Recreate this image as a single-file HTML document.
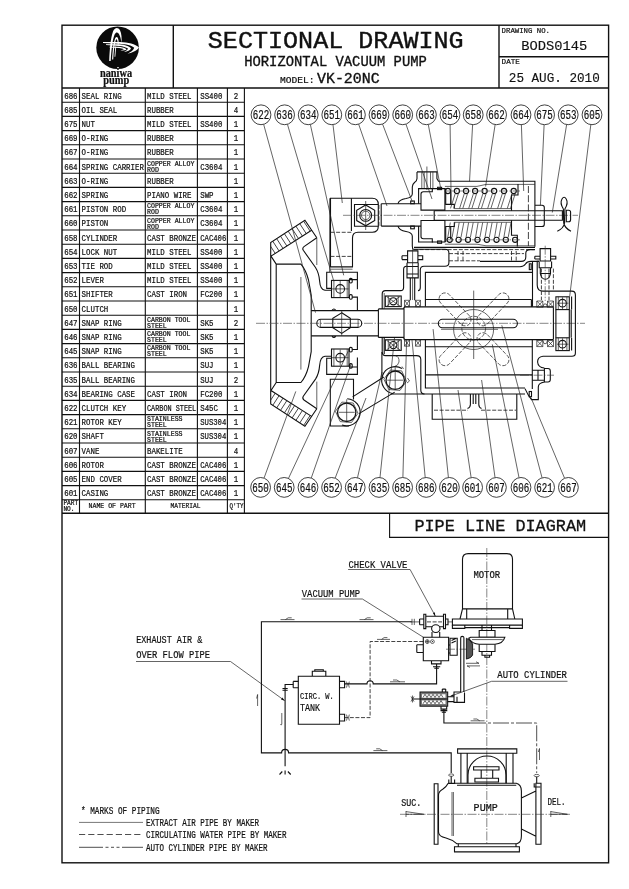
<!DOCTYPE html>
<html><head><meta charset="utf-8"><title>Sectional Drawing</title>
<style>
html,body{margin:0;padding:0;background:#fff;}
body{width:629px;height:889px;overflow:hidden;font-family:"Liberation Mono",monospace;}
svg{display:block;position:absolute;left:0;top:0;will-change:transform;opacity:0.999;}
svg text{font-family:"Liberation Mono",monospace;fill:#111;stroke:#111;stroke-width:0.22;}
.l{stroke:#111;stroke-width:1.1;fill:none;}
.t{stroke:#222;stroke-width:0.7;fill:none;}
.k{stroke:#111;stroke-width:1.4;fill:none;}
.m{stroke:#111;stroke-width:1.1;fill:none;}
.d{stroke:#222;stroke-width:0.85;fill:none;stroke-dasharray:4 1.6;}
.c{stroke:#333;stroke-width:0.6;fill:none;stroke-dasharray:9 1.5 1.5 1.5;}
.w{fill:#fff;stroke:#111;stroke-width:0.8;}
</style></head><body>
<svg width="629" height="889" viewBox="0 0 629 889">
<rect x="0" y="0" width="629" height="889" fill="#fff"/>
<rect class="k" x="62" y="25.2" width="546.6" height="837.6"/>
<path class="k" d="M62 88H608.6M173.3 25.2V88M499 25.2V88M499 56.8H608.6"/>
<path class="k" d="M62 513.2H608.6"/>
<path class="m" d="M389.6 513.2V537.4H608.6"/>
<circle cx="117.6" cy="47.7" r="21.3" fill="#0a0a0a"/>
<g fill="#fff" stroke="none"><path d="M109.2 61 C109.6 50 110.6 38 113 31.5 C114.5 27.8 117.8 26.6 120 30.2 C121.6 33.5 122 39 121.4 42.8 C121 40 120.6 37 119.6 35.4 C118.2 32 116.2 31.6 114.6 34.6 C112.4 40 111.4 50 110.7 61 Z"/><path d="M112.1 59.6 C112.5 52 113.2 44 114.8 39.2 C115.8 36.4 117.4 36.4 118.2 39 C118.7 41 118.8 43 118.6 44.6 L117.7 44.4 C117.7 42 117.4 40.4 116.8 39.4 C116.2 38.9 115.8 39.6 115.4 41.4 C114.2 46 113.6 52 113.2 59.6 Z"/><path d="M114.5 56.8 L115.3 46.6 L116.2 46.6 L115.3 56.8 Z"/><path d="M103 42 H120 C128 42.2 135.5 44 139 47.6 C137.5 50.6 132.5 52.8 127.5 53.8 C131 52 133.8 50 134.2 47.8 C132 45.6 126 44.2 119.2 43.8 L103 42.9 Z"/><path d="M106 44.3 H119 C125 44.8 129.5 46.4 131 48.4 C130.3 50 127.6 51.3 124 52 C126.4 50.8 127.8 49.6 128 48.6 C126.4 47.2 123 46.2 119 45.9 L106 45.1 Z"/><path d="M109.5 46.7 H119 C122.6 47.2 125.6 48.2 126.6 49.4 C125.4 50.2 123 50.5 120.4 50.4 C122.4 49.9 123.6 49.5 123.8 49.2 C122.8 48.5 121 48.1 119 47.9 L109.5 47.4 Z"/></g>
<rect x="117.3" y="67" width="1.4" height="1.4" fill="#fff"/>
<text x="116" y="76.8" text-anchor="middle" style="font-family:'Liberation Serif',serif;font-weight:bold" font-size="12" stroke="#111" stroke-width="0.25" textLength="32.2" lengthAdjust="spacingAndGlyphs">naniwa</text>
<text x="116.3" y="83.9" text-anchor="middle" style="font-family:'Liberation Serif',serif;font-weight:bold" font-size="12" stroke="#111" stroke-width="0.25" textLength="26" lengthAdjust="spacingAndGlyphs">pump</text>
<text x="207.80" y="47.50" font-size="23.22" textLength="255.85" lengthAdjust="spacingAndGlyphs" style="stroke-width:0.4">SECTIONAL&#160;DRAWING</text>
<text x="244.20" y="65.80" font-size="14.26" textLength="182.60" lengthAdjust="spacingAndGlyphs" style="stroke-width:0.35">HORIZONTAL&#160;VACUUM&#160;PUMP</text>
<text x="280.00" y="82.60" font-size="9.10" textLength="34.50" lengthAdjust="spacingAndGlyphs" >MODEL:</text>
<text x="317.00" y="82.60" font-size="14.57" textLength="62.65" lengthAdjust="spacingAndGlyphs" style="stroke-width:0.35">VK-20NC</text>
<text x="501.60" y="32.80" font-size="7.89" textLength="48.40" lengthAdjust="spacingAndGlyphs" >DRAWING&#160;NO.</text>
<text x="521.20" y="49.60" font-size="13.51" textLength="66.00" lengthAdjust="spacingAndGlyphs" style="stroke-width:0.15">BODS0145</text>
<text x="501.60" y="64.40" font-size="7.89" textLength="18.20" lengthAdjust="spacingAndGlyphs" >DATE</text>
<text x="508.80" y="82.00" font-size="13.51" textLength="90.96" lengthAdjust="spacingAndGlyphs" style="stroke-width:0.15">25&#160;AUG.&#160;2010</text>
<path class="l" d="M62 102.20H244.4M62 116.40H244.4M62 130.60H244.4M62 144.80H244.4M62 159.00H244.4M62 173.20H244.4M62 187.40H244.4M62 201.60H244.4M62 215.80H244.4M62 230.00H244.4M62 244.20H244.4M62 258.40H244.4M62 272.60H244.4M62 286.80H244.4M62 301.00H244.4M62 315.20H244.4M62 329.40H244.4M62 343.60H244.4M62 357.80H244.4M62 372.00H244.4M62 386.20H244.4M62 400.40H244.4M62 414.60H244.4M62 428.80H244.4M62 443.00H244.4M62 457.20H244.4M62 471.40H244.4M62 485.60H244.4M62 499.80H244.4"/>
<path class="l" d="M79.5 88V513.2M145.3 88V513.2M197.4 88V499.8M227.4 88V513.2M244.4 88V513.2"/>
<text x="64.20" y="98.60" font-size="8.95" textLength="13.35" lengthAdjust="spacingAndGlyphs" >686</text>
<text x="81.60" y="98.60" font-size="8.95" textLength="40.05" lengthAdjust="spacingAndGlyphs" >SEAL&#160;RING</text>
<text x="147.00" y="98.60" font-size="8.95" textLength="44.50" lengthAdjust="spacingAndGlyphs" >MILD&#160;STEEL</text>
<text x="200.20" y="98.60" font-size="8.95" textLength="22.25" lengthAdjust="spacingAndGlyphs" >SS400</text>
<text x="233.68" y="98.60" font-size="8.95" textLength="4.45" lengthAdjust="spacingAndGlyphs" >2</text>
<text x="64.20" y="112.80" font-size="8.95" textLength="13.35" lengthAdjust="spacingAndGlyphs" >685</text>
<text x="81.60" y="112.80" font-size="8.95" textLength="35.60" lengthAdjust="spacingAndGlyphs" >OIL&#160;SEAL</text>
<text x="147.00" y="112.80" font-size="8.95" textLength="26.70" lengthAdjust="spacingAndGlyphs" >RUBBER</text>
<text x="233.68" y="112.80" font-size="8.95" textLength="4.45" lengthAdjust="spacingAndGlyphs" >4</text>
<text x="64.20" y="127.00" font-size="8.95" textLength="13.35" lengthAdjust="spacingAndGlyphs" >675</text>
<text x="81.60" y="127.00" font-size="8.95" textLength="13.35" lengthAdjust="spacingAndGlyphs" >NUT</text>
<text x="147.00" y="127.00" font-size="8.95" textLength="44.50" lengthAdjust="spacingAndGlyphs" >MILD&#160;STEEL</text>
<text x="200.20" y="127.00" font-size="8.95" textLength="22.25" lengthAdjust="spacingAndGlyphs" >SS400</text>
<text x="233.68" y="127.00" font-size="8.95" textLength="4.45" lengthAdjust="spacingAndGlyphs" >1</text>
<text x="64.20" y="141.20" font-size="8.95" textLength="13.35" lengthAdjust="spacingAndGlyphs" >669</text>
<text x="81.60" y="141.20" font-size="8.95" textLength="26.70" lengthAdjust="spacingAndGlyphs" >O-RING</text>
<text x="147.00" y="141.20" font-size="8.95" textLength="26.70" lengthAdjust="spacingAndGlyphs" >RUBBER</text>
<text x="233.68" y="141.20" font-size="8.95" textLength="4.45" lengthAdjust="spacingAndGlyphs" >1</text>
<text x="64.20" y="155.40" font-size="8.95" textLength="13.35" lengthAdjust="spacingAndGlyphs" >667</text>
<text x="81.60" y="155.40" font-size="8.95" textLength="26.70" lengthAdjust="spacingAndGlyphs" >O-RING</text>
<text x="147.00" y="155.40" font-size="8.95" textLength="26.70" lengthAdjust="spacingAndGlyphs" >RUBBER</text>
<text x="233.68" y="155.40" font-size="8.95" textLength="4.45" lengthAdjust="spacingAndGlyphs" >1</text>
<text x="64.20" y="169.60" font-size="8.95" textLength="13.35" lengthAdjust="spacingAndGlyphs" >664</text>
<text x="81.60" y="169.60" font-size="8.95" textLength="62.30" lengthAdjust="spacingAndGlyphs" >SPRING&#160;CARRIER</text>
<text x="147.00" y="165.70" font-size="6.83" textLength="47.40" lengthAdjust="spacingAndGlyphs" >COPPER&#160;ALLOY</text>
<text x="147.00" y="171.80" font-size="6.83" textLength="11.85" lengthAdjust="spacingAndGlyphs" >ROD</text>
<text x="200.20" y="169.60" font-size="8.95" textLength="22.25" lengthAdjust="spacingAndGlyphs" >C3604</text>
<text x="233.68" y="169.60" font-size="8.95" textLength="4.45" lengthAdjust="spacingAndGlyphs" >1</text>
<text x="64.20" y="183.80" font-size="8.95" textLength="13.35" lengthAdjust="spacingAndGlyphs" >663</text>
<text x="81.60" y="183.80" font-size="8.95" textLength="26.70" lengthAdjust="spacingAndGlyphs" >O-RING</text>
<text x="147.00" y="183.80" font-size="8.95" textLength="26.70" lengthAdjust="spacingAndGlyphs" >RUBBER</text>
<text x="233.68" y="183.80" font-size="8.95" textLength="4.45" lengthAdjust="spacingAndGlyphs" >1</text>
<text x="64.20" y="198.00" font-size="8.95" textLength="13.35" lengthAdjust="spacingAndGlyphs" >662</text>
<text x="81.60" y="198.00" font-size="8.95" textLength="26.70" lengthAdjust="spacingAndGlyphs" >SPRING</text>
<text x="147.00" y="198.00" font-size="8.95" textLength="44.50" lengthAdjust="spacingAndGlyphs" >PIANO&#160;WIRE</text>
<text x="200.20" y="198.00" font-size="8.95" textLength="13.35" lengthAdjust="spacingAndGlyphs" >SWP</text>
<text x="233.68" y="198.00" font-size="8.95" textLength="4.45" lengthAdjust="spacingAndGlyphs" >1</text>
<text x="64.20" y="212.20" font-size="8.95" textLength="13.35" lengthAdjust="spacingAndGlyphs" >661</text>
<text x="81.60" y="212.20" font-size="8.95" textLength="44.50" lengthAdjust="spacingAndGlyphs" >PISTON&#160;ROD</text>
<text x="147.00" y="208.30" font-size="6.83" textLength="47.40" lengthAdjust="spacingAndGlyphs" >COPPER&#160;ALLOY</text>
<text x="147.00" y="214.40" font-size="6.83" textLength="11.85" lengthAdjust="spacingAndGlyphs" >ROD</text>
<text x="200.20" y="212.20" font-size="8.95" textLength="22.25" lengthAdjust="spacingAndGlyphs" >C3604</text>
<text x="233.68" y="212.20" font-size="8.95" textLength="4.45" lengthAdjust="spacingAndGlyphs" >1</text>
<text x="64.20" y="226.40" font-size="8.95" textLength="13.35" lengthAdjust="spacingAndGlyphs" >660</text>
<text x="81.60" y="226.40" font-size="8.95" textLength="26.70" lengthAdjust="spacingAndGlyphs" >PISTON</text>
<text x="147.00" y="222.50" font-size="6.83" textLength="47.40" lengthAdjust="spacingAndGlyphs" >COPPER&#160;ALLOY</text>
<text x="147.00" y="228.60" font-size="6.83" textLength="11.85" lengthAdjust="spacingAndGlyphs" >ROD</text>
<text x="200.20" y="226.40" font-size="8.95" textLength="22.25" lengthAdjust="spacingAndGlyphs" >C3604</text>
<text x="233.68" y="226.40" font-size="8.95" textLength="4.45" lengthAdjust="spacingAndGlyphs" >1</text>
<text x="64.20" y="240.60" font-size="8.95" textLength="13.35" lengthAdjust="spacingAndGlyphs" >658</text>
<text x="81.60" y="240.60" font-size="8.95" textLength="35.60" lengthAdjust="spacingAndGlyphs" >CYLINDER</text>
<text x="147.00" y="240.60" font-size="8.95" textLength="48.95" lengthAdjust="spacingAndGlyphs" >CAST&#160;BRONZE</text>
<text x="200.20" y="240.60" font-size="8.95" textLength="26.10" lengthAdjust="spacingAndGlyphs" >CAC406</text>
<text x="233.68" y="240.60" font-size="8.95" textLength="4.45" lengthAdjust="spacingAndGlyphs" >1</text>
<text x="64.20" y="254.80" font-size="8.95" textLength="13.35" lengthAdjust="spacingAndGlyphs" >654</text>
<text x="81.60" y="254.80" font-size="8.95" textLength="35.60" lengthAdjust="spacingAndGlyphs" >LOCK&#160;NUT</text>
<text x="147.00" y="254.80" font-size="8.95" textLength="44.50" lengthAdjust="spacingAndGlyphs" >MILD&#160;STEEL</text>
<text x="200.20" y="254.80" font-size="8.95" textLength="22.25" lengthAdjust="spacingAndGlyphs" >SS400</text>
<text x="233.68" y="254.80" font-size="8.95" textLength="4.45" lengthAdjust="spacingAndGlyphs" >1</text>
<text x="64.20" y="269.00" font-size="8.95" textLength="13.35" lengthAdjust="spacingAndGlyphs" >653</text>
<text x="81.60" y="269.00" font-size="8.95" textLength="31.15" lengthAdjust="spacingAndGlyphs" >TIE&#160;ROD</text>
<text x="147.00" y="269.00" font-size="8.95" textLength="44.50" lengthAdjust="spacingAndGlyphs" >MILD&#160;STEEL</text>
<text x="200.20" y="269.00" font-size="8.95" textLength="22.25" lengthAdjust="spacingAndGlyphs" >SS400</text>
<text x="233.68" y="269.00" font-size="8.95" textLength="4.45" lengthAdjust="spacingAndGlyphs" >1</text>
<text x="64.20" y="283.20" font-size="8.95" textLength="13.35" lengthAdjust="spacingAndGlyphs" >652</text>
<text x="81.60" y="283.20" font-size="8.95" textLength="22.25" lengthAdjust="spacingAndGlyphs" >LEVER</text>
<text x="147.00" y="283.20" font-size="8.95" textLength="44.50" lengthAdjust="spacingAndGlyphs" >MILD&#160;STEEL</text>
<text x="200.20" y="283.20" font-size="8.95" textLength="22.25" lengthAdjust="spacingAndGlyphs" >SS400</text>
<text x="233.68" y="283.20" font-size="8.95" textLength="4.45" lengthAdjust="spacingAndGlyphs" >1</text>
<text x="64.20" y="297.40" font-size="8.95" textLength="13.35" lengthAdjust="spacingAndGlyphs" >651</text>
<text x="81.60" y="297.40" font-size="8.95" textLength="31.15" lengthAdjust="spacingAndGlyphs" >SHIFTER</text>
<text x="147.00" y="297.40" font-size="8.95" textLength="40.05" lengthAdjust="spacingAndGlyphs" >CAST&#160;IRON</text>
<text x="200.20" y="297.40" font-size="8.95" textLength="22.25" lengthAdjust="spacingAndGlyphs" >FC200</text>
<text x="233.68" y="297.40" font-size="8.95" textLength="4.45" lengthAdjust="spacingAndGlyphs" >1</text>
<text x="64.20" y="311.60" font-size="8.95" textLength="13.35" lengthAdjust="spacingAndGlyphs" >650</text>
<text x="81.60" y="311.60" font-size="8.95" textLength="26.70" lengthAdjust="spacingAndGlyphs" >CLUTCH</text>
<text x="233.68" y="311.60" font-size="8.95" textLength="4.45" lengthAdjust="spacingAndGlyphs" >1</text>
<text x="64.20" y="325.80" font-size="8.95" textLength="13.35" lengthAdjust="spacingAndGlyphs" >647</text>
<text x="81.60" y="325.80" font-size="8.95" textLength="40.05" lengthAdjust="spacingAndGlyphs" >SNAP&#160;RING</text>
<text x="147.00" y="321.90" font-size="6.83" textLength="43.45" lengthAdjust="spacingAndGlyphs" >CARBON&#160;TOOL</text>
<text x="147.00" y="328.00" font-size="6.83" textLength="19.75" lengthAdjust="spacingAndGlyphs" >STEEL</text>
<text x="200.20" y="325.80" font-size="8.95" textLength="13.35" lengthAdjust="spacingAndGlyphs" >SK5</text>
<text x="233.68" y="325.80" font-size="8.95" textLength="4.45" lengthAdjust="spacingAndGlyphs" >2</text>
<text x="64.20" y="340.00" font-size="8.95" textLength="13.35" lengthAdjust="spacingAndGlyphs" >646</text>
<text x="81.60" y="340.00" font-size="8.95" textLength="40.05" lengthAdjust="spacingAndGlyphs" >SNAP&#160;RING</text>
<text x="147.00" y="336.10" font-size="6.83" textLength="43.45" lengthAdjust="spacingAndGlyphs" >CARBON&#160;TOOL</text>
<text x="147.00" y="342.20" font-size="6.83" textLength="19.75" lengthAdjust="spacingAndGlyphs" >STEEL</text>
<text x="200.20" y="340.00" font-size="8.95" textLength="13.35" lengthAdjust="spacingAndGlyphs" >SK5</text>
<text x="233.68" y="340.00" font-size="8.95" textLength="4.45" lengthAdjust="spacingAndGlyphs" >1</text>
<text x="64.20" y="354.20" font-size="8.95" textLength="13.35" lengthAdjust="spacingAndGlyphs" >645</text>
<text x="81.60" y="354.20" font-size="8.95" textLength="40.05" lengthAdjust="spacingAndGlyphs" >SNAP&#160;RING</text>
<text x="147.00" y="350.30" font-size="6.83" textLength="43.45" lengthAdjust="spacingAndGlyphs" >CARBON&#160;TOOL</text>
<text x="147.00" y="356.40" font-size="6.83" textLength="19.75" lengthAdjust="spacingAndGlyphs" >STEEL</text>
<text x="200.20" y="354.20" font-size="8.95" textLength="13.35" lengthAdjust="spacingAndGlyphs" >SK5</text>
<text x="233.68" y="354.20" font-size="8.95" textLength="4.45" lengthAdjust="spacingAndGlyphs" >1</text>
<text x="64.20" y="368.40" font-size="8.95" textLength="13.35" lengthAdjust="spacingAndGlyphs" >636</text>
<text x="81.60" y="368.40" font-size="8.95" textLength="53.40" lengthAdjust="spacingAndGlyphs" >BALL&#160;BEARING</text>
<text x="200.20" y="368.40" font-size="8.95" textLength="13.35" lengthAdjust="spacingAndGlyphs" >SUJ</text>
<text x="233.68" y="368.40" font-size="8.95" textLength="4.45" lengthAdjust="spacingAndGlyphs" >1</text>
<text x="64.20" y="382.60" font-size="8.95" textLength="13.35" lengthAdjust="spacingAndGlyphs" >635</text>
<text x="81.60" y="382.60" font-size="8.95" textLength="53.40" lengthAdjust="spacingAndGlyphs" >BALL&#160;BEARING</text>
<text x="200.20" y="382.60" font-size="8.95" textLength="13.35" lengthAdjust="spacingAndGlyphs" >SUJ</text>
<text x="233.68" y="382.60" font-size="8.95" textLength="4.45" lengthAdjust="spacingAndGlyphs" >2</text>
<text x="64.20" y="396.80" font-size="8.95" textLength="13.35" lengthAdjust="spacingAndGlyphs" >634</text>
<text x="81.60" y="396.80" font-size="8.95" textLength="53.40" lengthAdjust="spacingAndGlyphs" >BEARING&#160;CASE</text>
<text x="147.00" y="396.80" font-size="8.95" textLength="40.05" lengthAdjust="spacingAndGlyphs" >CAST&#160;IRON</text>
<text x="200.20" y="396.80" font-size="8.95" textLength="22.25" lengthAdjust="spacingAndGlyphs" >FC200</text>
<text x="233.68" y="396.80" font-size="8.95" textLength="4.45" lengthAdjust="spacingAndGlyphs" >1</text>
<text x="64.20" y="411.00" font-size="8.95" textLength="13.35" lengthAdjust="spacingAndGlyphs" >622</text>
<text x="81.60" y="411.00" font-size="8.95" textLength="44.50" lengthAdjust="spacingAndGlyphs" >CLUTCH&#160;KEY</text>
<text x="147.00" y="411.00" font-size="8.95" textLength="49.20" lengthAdjust="spacingAndGlyphs" >CARBON&#160;STEEL</text>
<text x="200.20" y="411.00" font-size="8.95" textLength="17.80" lengthAdjust="spacingAndGlyphs" >S45C</text>
<text x="233.68" y="411.00" font-size="8.95" textLength="4.45" lengthAdjust="spacingAndGlyphs" >1</text>
<text x="64.20" y="425.20" font-size="8.95" textLength="13.35" lengthAdjust="spacingAndGlyphs" >621</text>
<text x="81.60" y="425.20" font-size="8.95" textLength="40.05" lengthAdjust="spacingAndGlyphs" >ROTOR&#160;KEY</text>
<text x="147.00" y="421.30" font-size="6.83" textLength="35.55" lengthAdjust="spacingAndGlyphs" >STAINLESS</text>
<text x="147.00" y="427.40" font-size="6.83" textLength="19.75" lengthAdjust="spacingAndGlyphs" >STEEL</text>
<text x="200.20" y="425.20" font-size="8.95" textLength="26.10" lengthAdjust="spacingAndGlyphs" >SUS304</text>
<text x="233.68" y="425.20" font-size="8.95" textLength="4.45" lengthAdjust="spacingAndGlyphs" >1</text>
<text x="64.20" y="439.40" font-size="8.95" textLength="13.35" lengthAdjust="spacingAndGlyphs" >620</text>
<text x="81.60" y="439.40" font-size="8.95" textLength="22.25" lengthAdjust="spacingAndGlyphs" >SHAFT</text>
<text x="147.00" y="435.50" font-size="6.83" textLength="35.55" lengthAdjust="spacingAndGlyphs" >STAINLESS</text>
<text x="147.00" y="441.60" font-size="6.83" textLength="19.75" lengthAdjust="spacingAndGlyphs" >STEEL</text>
<text x="200.20" y="439.40" font-size="8.95" textLength="26.10" lengthAdjust="spacingAndGlyphs" >SUS304</text>
<text x="233.68" y="439.40" font-size="8.95" textLength="4.45" lengthAdjust="spacingAndGlyphs" >1</text>
<text x="64.20" y="453.60" font-size="8.95" textLength="13.35" lengthAdjust="spacingAndGlyphs" >607</text>
<text x="81.60" y="453.60" font-size="8.95" textLength="17.80" lengthAdjust="spacingAndGlyphs" >VANE</text>
<text x="147.00" y="453.60" font-size="8.95" textLength="35.60" lengthAdjust="spacingAndGlyphs" >BAKELITE</text>
<text x="233.68" y="453.60" font-size="8.95" textLength="4.45" lengthAdjust="spacingAndGlyphs" >4</text>
<text x="64.20" y="467.80" font-size="8.95" textLength="13.35" lengthAdjust="spacingAndGlyphs" >606</text>
<text x="81.60" y="467.80" font-size="8.95" textLength="22.25" lengthAdjust="spacingAndGlyphs" >ROTOR</text>
<text x="147.00" y="467.80" font-size="8.95" textLength="48.95" lengthAdjust="spacingAndGlyphs" >CAST&#160;BRONZE</text>
<text x="200.20" y="467.80" font-size="8.95" textLength="26.10" lengthAdjust="spacingAndGlyphs" >CAC406</text>
<text x="233.68" y="467.80" font-size="8.95" textLength="4.45" lengthAdjust="spacingAndGlyphs" >1</text>
<text x="64.20" y="482.00" font-size="8.95" textLength="13.35" lengthAdjust="spacingAndGlyphs" >605</text>
<text x="81.60" y="482.00" font-size="8.95" textLength="40.05" lengthAdjust="spacingAndGlyphs" >END&#160;COVER</text>
<text x="147.00" y="482.00" font-size="8.95" textLength="48.95" lengthAdjust="spacingAndGlyphs" >CAST&#160;BRONZE</text>
<text x="200.20" y="482.00" font-size="8.95" textLength="26.10" lengthAdjust="spacingAndGlyphs" >CAC406</text>
<text x="233.68" y="482.00" font-size="8.95" textLength="4.45" lengthAdjust="spacingAndGlyphs" >1</text>
<text x="64.20" y="496.20" font-size="8.95" textLength="13.35" lengthAdjust="spacingAndGlyphs" >601</text>
<text x="81.60" y="496.20" font-size="8.95" textLength="26.70" lengthAdjust="spacingAndGlyphs" >CASING</text>
<text x="147.00" y="496.20" font-size="8.95" textLength="48.95" lengthAdjust="spacingAndGlyphs" >CAST&#160;BRONZE</text>
<text x="200.20" y="496.20" font-size="8.95" textLength="26.10" lengthAdjust="spacingAndGlyphs" >CAC406</text>
<text x="233.68" y="496.20" font-size="8.95" textLength="4.45" lengthAdjust="spacingAndGlyphs" >1</text>
<text x="63.40" y="504.80" font-size="6.53" textLength="14.80" lengthAdjust="spacingAndGlyphs" >PART</text>
<text x="63.40" y="510.60" font-size="6.53" textLength="11.10" lengthAdjust="spacingAndGlyphs" >NO.</text>
<text x="88.60" y="508.20" font-size="7.13" textLength="47.04" lengthAdjust="spacingAndGlyphs" >NAME&#160;OF&#160;PART</text>
<text x="170.60" y="508.20" font-size="7.13" textLength="30.00" lengthAdjust="spacingAndGlyphs" >MATERIAL</text>
<text x="229.60" y="508.20" font-size="7.13" textLength="14.00" lengthAdjust="spacingAndGlyphs" >Q&#x27;TY</text>
<text x="414.40" y="530.80" font-size="16.69" textLength="171.70" lengthAdjust="spacingAndGlyphs" style="stroke-width:0.3">PIPE&#160;LINE&#160;DIAGRAM</text>
<defs><clipPath id="hc"><path d="M270.7 242.6L304.9 220.3L311.6 230.2L270.7 256.3Z"/></clipPath></defs>
<g><path class="l" d="M270.7 323.3V242.6L304.9 220.3L316.8 237.8M311.6 230.2L271 256.1L276.2 264.1H300.9Q306 270 308.5 280Q310 288 311.2 295V323.3M276.2 264.1V323.3"/><path class="t" d="M316.8 237.8V265M300.9 277V323.3"/><path class="l" d="M316.8 237.8L304 246.6Q302 248.2 303.3 250.3L315.5 267.5Q319 273 319.6 281Q320.2 289.8 325 290.3H331.5"/><path class="t" style="stroke-width:.85" clip-path="url(#hc)" d="M264.0 244.6L272.7 258.0M267.8 242.1L276.6 255.5M271.7 239.6L280.4 253.0M275.6 237.0L284.3 250.5M279.4 234.5L288.1 247.9M283.3 232.0L292.0 245.4M287.1 229.5L295.9 242.9M291.0 227.0L299.7 240.4M294.8 224.5L303.6 237.9M298.7 222.0L307.4 235.4M302.5 219.5L311.3 232.9M306.4 217.0L315.1 230.4M310.3 214.4L319.0 227.9M314.1 211.9L322.8 225.3"/><rect class="l" x="331.5" y="280.4" width="17.5" height="17.2"/><circle class="l" cx="340.2" cy="288.9" r="4.3"/><path class="t" d="M333.9 280.4V297.6M347.2 280.4V297.6M332 288.9H348.5M340.2 281V297"/><rect class="l" x="349.4" y="278.4" width="2.8" height="4.6" rx="1.2"/><rect class="l" x="349.4" y="294.6" width="2.8" height="4.6" rx="1.2"/><path class="l" d="M331.5 288.4H326.7V272.2H357.4V289.2M349 279.6H357.4M352.2 297.1H357.4V310.6"/></g>
<g transform="matrix(1 0 0 -1 0 646.6)"><path class="l" d="M270.7 323.3V242.6L304.9 220.3L316.8 237.8M311.6 230.2L271 256.1L276.2 264.1H300.9Q306 270 308.5 280Q310 288 311.2 295V323.3M276.2 264.1V323.3"/><path class="t" d="M316.8 237.8V265M300.9 277V323.3"/><path class="l" d="M316.8 237.8L304 246.6Q302 248.2 303.3 250.3L315.5 267.5Q319 273 319.6 281Q320.2 289.8 325 290.3H331.5"/><path class="t" style="stroke-width:.85" clip-path="url(#hc)" d="M264.0 244.6L272.7 258.0M267.8 242.1L276.6 255.5M271.7 239.6L280.4 253.0M275.6 237.0L284.3 250.5M279.4 234.5L288.1 247.9M283.3 232.0L292.0 245.4M287.1 229.5L295.9 242.9M291.0 227.0L299.7 240.4M294.8 224.5L303.6 237.9M298.7 222.0L307.4 235.4M302.5 219.5L311.3 232.9M306.4 217.0L315.1 230.4M310.3 214.4L319.0 227.9M314.1 211.9L322.8 225.3"/><rect class="l" x="331.5" y="280.4" width="17.5" height="17.2"/><circle class="l" cx="340.2" cy="288.9" r="4.3"/><path class="t" d="M333.9 280.4V297.6M347.2 280.4V297.6M332 288.9H348.5M340.2 281V297"/><rect class="l" x="349.4" y="278.4" width="2.8" height="4.6" rx="1.2"/><rect class="l" x="349.4" y="294.6" width="2.8" height="4.6" rx="1.2"/><path class="l" d="M331.5 288.4H326.7V272.2H357.4V289.2M349 279.6H357.4M352.2 297.1H357.4V310.6"/></g>
<path class="l" d="M311.2 310.6H378.4M311.2 335.9H378.4M378.4 309V337.4M331.9 310.6Q333.9 307.4 335.9 310.6M331.9 335.9Q333.9 339.1 335.9 335.9"/>
<rect class="m" x="316.8" y="319.3" width="44.9" height="8.1" rx="4"/>
<path class="l" d="M341.7 312.8L350.3 318.4V327.8L341.7 333.4L332.8 327.8V318.4Z"/>
<path class="t" d="M341.7 310.8V335.6M320.3 319.3V327.4M358.1 319.3V327.4"/>
<path class="c" d="M256 323.3H585"/>
<path class="l" d="M330.5 198.3H372.3Q378.3 198.3 378.3 204.5V226.3Q378.3 232.3 372.3 232.3H358Q352.5 232.3 352.5 238V266.9H330.5Z"/>
<path class="l" d="M351.4 198.3V231M378.3 204.5H354.5V226.3H378.3"/>
<path class="d" d="M330.5 232.3H352M330.5 256.4H352.5"/>
<path class="t" d="M330.5 269.2H352.5"/>
<polygon class="l" points="374.7,220.6 365.7,225.8 356.7,220.6 356.7,210.2 365.7,205.0 374.7,210.2"/>
<circle class="m" cx="365.7" cy="215.4" r="5.9"/><circle class="t" cx="365.7" cy="215.4" r="4.2"/>
<path class="t" d="M365.7 201V230"/>
<path class="d" d="M378.9 205V226"/>
<path class="l" d="M353.5 399.5V379.3H330.3V426H349"/>
<path class="t" d="M329.6 198.3V272"/>
<path class="c" d="M343 215.3H578"/>
<path class="l" d="M381.2 203.8H421M381.2 226.1H421M381.2 203.8V226.1"/>
<path class="l" d="M417 171.9V178.5Q417 181 414.5 182.5Q412.5 184 412.3 187V194Q412 197.5 406 198.5Q399 199.5 398 203.7M398 226.1Q399 230.5 406 231.5Q412 232.5 412.3 236V246Q412.6 249.3 413.2 250M417 171.9H436.9V178.5L438.5 181.3H534.9V246.8"/>
<path class="t" d="M421.8 171.9V188.6M424.2 171.9V188.6M430.5 171.9V188.6M432.9 171.9V188.6M426.9 166.5V190"/>
<path class="l" d="M418.6 203.7V188.6H433M418.6 226.1V242H433"/>
<rect class="l" x="410.7" y="201" width="3.6" height="2.7"/><rect class="l" x="410.7" y="226.1" width="3.6" height="2.7"/>
<path class="l" d="M421 210.1V194Q421 191.8 423.4 191.8H432.3V188.6H444.9V210.1Z"/><rect class="l" x="437.6" y="187.3" width="4" height="2.3"/>
<g transform="matrix(1 0 0 -1 0 430.6)"><path class="l" d="M421 210.1V194Q421 191.8 423.4 191.8H432.3V188.6H444.9V210.1Z"/><rect class="l" x="437.6" y="187.3" width="4" height="2.3"/></g>
<path class="m" d="M434.2 210.7V220.3M434.2 210.7H562.4V220.3H434.2"/>
<path class="t" d="M454.3 208.6H511.5M454.3 222.3H511.5"/>
<path class="t" d="M444.9 186.4H477L486 184.4H534.9M444.9 244.2H477L486 245.8H534.9"/>
<path class="l" d="M518 184V195H511.5V210.7M511.5 220.2V235.2H517.3V246.6M445.7 188.6V204.4H454.3V208.6M450.7 192V204.4M445.7 242V226.5H454.3V222.3M450.7 239V226.5"/>
<path class="d" style="stroke-dasharray:7 2.2" d="M528.4 186V246"/>
<path class="k" d="M414 247.4H535"/>
<path class="d" d="M414 249.6H534"/>
<circle class="l" cx="447.9" cy="191" r="2.6"/>
<circle class="l" cx="456.9" cy="191" r="2.6"/>
<circle class="l" cx="466.0" cy="191" r="2.6"/>
<circle class="l" cx="475.1" cy="191" r="2.6"/>
<circle class="l" cx="484.6" cy="191" r="2.6"/>
<circle class="l" cx="494.1" cy="191" r="2.6"/>
<circle class="l" cx="504.0" cy="191" r="2.6"/>
<circle class="l" cx="513.7" cy="191" r="2.6"/>
<circle class="l" cx="449.7" cy="239.8" r="2.6"/>
<circle class="l" cx="458.6" cy="239.8" r="2.6"/>
<circle class="l" cx="468.0" cy="239.8" r="2.6"/>
<circle class="l" cx="477.5" cy="239.8" r="2.6"/>
<circle class="l" cx="486.9" cy="239.8" r="2.6"/>
<circle class="l" cx="496.5" cy="239.8" r="2.6"/>
<circle class="l" cx="505.8" cy="239.8" r="2.6"/>
<circle class="l" cx="515.1" cy="239.8" r="2.6"/>
<path class="t" d="M455.2 193.7L450.5 208.4M458.4 193.7L453.7 208.4M464.3 193.7L459.6 208.4M467.5 193.7L462.8 208.4M473.4 193.7L468.7 208.4M476.6 193.7L471.9 208.4M482.9 193.7L478.2 208.4M486.1 193.7L481.4 208.4M492.4 193.7L487.7 208.4M495.6 193.7L490.9 208.4M502.3 193.7L497.6 208.4M505.5 193.7L500.8 208.4M512.0 193.7L507.3 208.4M515.2 193.7L510.5 208.4M450.3 222.5L447.8 237.3M454.9 222.5L452.1 237.3M459.2 222.5L456.7 237.3M463.8 222.5L461.0 237.3M468.6 222.5L466.1 237.3M473.2 222.5L470.4 237.3M478.1 222.5L475.6 237.3M482.7 222.5L479.9 237.3M487.5 222.5L485.0 237.3M492.1 222.5L489.3 237.3M497.1 222.5L494.6 237.3M501.7 222.5L498.9 237.3M506.4 222.5L503.9 237.3M511.0 222.5L508.2 237.3"/>
<path class="c" d="M445 191H520M445 239.8H520"/>
<path class="l" d="M535 205.2H542Q544.3 205.2 544.3 207.5V224.2Q544.3 226.5 542 226.5H535"/>
<path class="m" d="M563.4 209Q559.6 203 562 199Q564.1 195.6 566.2 199Q568.6 203 564.9 209L564.6 223Q563.5 228.5 557.3 231.2M563.4 209L563.7 223Q565 228.5 571 231.2"/>
<path class="l" d="M566.3 210.3H568.6Q570.6 210.3 570.6 212.3V219.7Q570.6 221.7 568.6 221.7H566.3Z"/>
<path class="l" d="M407.6 250.9H417.9V262.8H407.6ZM402 255.7H407.6M402 259.6H407.6M402 255.7V259.6M417.9 255.7H422.7V259.6H417.9M407 262.8V277.9H418.2V262.8M410.3 277.9V300.2M414.7 277.9V300.2M407 266.5H418.2M407 274H418.2"/>
<path class="t" d="M412.6 250V300"/>
<path class="l" d="M413.2 249.3H445Q448.9 249.3 448.9 253V262.5Q448.9 266.3 445 266.3H424Q420.3 266.3 420.3 270V287.5M407 266.3H406.5Q403.6 266.3 403.6 269.5V287.5Q403.6 290.6 400.5 290.6H385.5Q382.2 290.6 382.2 294V308.9M420.3 287.5Q420.3 290.6 418 290.6"/>
<path class="t" d="M384.2 293V308.9"/>
<path class="l" d="M425.4 306.5V272.4H532.5M425.4 299.5H531.4M532.5 261.5V306.8"/>
<path class="l" d="M448.9 266.7H520Q524 266.5 525.5 264Q527 261.4 531 261.4H539M480 261.4H521Q525.8 261.4 525.8 257V253Q526 249.6 530 249.6H535"/>
<path class="d" d="M449 253.6H524M449 260.8H480"/>
<path class="d" d="M511.5 251V262M516.2 251V262M458 251V262M463 251V262"/>
<rect class="l" x="529.3" y="263.8" width="1.9" height="5.8"/>
<path class="l" d="M378.4 308.9H403.4L404.8 306.9H553.4M378.4 337.4H403.4L404.8 339.6H553.4M404 306.9V339.6"/>
<rect class="l" x="385.3" y="296.0" width="15.9" height="10.6"/><circle class="l" cx="393.3" cy="301.3" r="3.6"/><path class="t" d="M386.5 296.5L400 306.1M386.5 306.1L400 296.5M388.3 296.0V306.6M398.2 296.0V306.6"/>
<rect class="l" x="385.3" y="339.8" width="15.9" height="10.6"/><circle class="l" cx="393.3" cy="345.1" r="3.6"/><path class="t" d="M386.5 340.3L400 349.9M386.5 349.9L400 340.3M388.3 339.8V350.4M398.2 339.8V350.4"/>
<path class="t" d="M404.5 300.3H409.5V306.7H404.5ZM404.5 300.3L409.5 306.7M404.5 306.7L409.5 300.3"/>
<path class="t" d="M415.5 300.3H420.5V306.7H415.5ZM415.5 300.3L420.5 306.7M415.5 306.7L420.5 300.3"/>
<path class="t" d="M404.5 339.8H409.5V346.2H404.5ZM404.5 339.8L409.5 346.2M404.5 346.2L409.5 339.8"/>
<path class="t" d="M415.5 339.8H420.5V346.2H415.5ZM415.5 339.8L420.5 346.2M415.5 346.2L420.5 339.8"/>
<path class="l" d="M382.2 337.4V352Q382.2 355.6 385.5 355.6H416.5Q420.8 355.6 420.8 359.5V390Q420.8 394 424.5 394M384.2 337.4V354"/>
<path class="l" d="M391 394H525M381.9 352V377.5"/>
<path class="l" d="M425.4 339.6V388H525M425.4 346.8H532.3M425.4 374.9H532.3M531.4 299.5V306.9"/>
<path class="l" d="M432.2 394V419.2H516.8V394M470.4 394V404.5Q470.4 407.5 467.5 408.5M478.8 394V404.5Q478.8 407.5 481.5 408.5M473.2 394V404M475.8 394V404"/>
<path class="d" d="M434 410.2H468M481 410.2H516"/>
<path class="t" d="M473.7 290.6V359"/>
<circle class="t" cx="473.6" cy="329.5" r="20"/>
<circle class="d" cx="473.7" cy="328.2" r="11.9" style="stroke-width:.7"/>
<rect class="m" x="438.3" y="319.3" width="79.1" height="8.5" rx="4.2"/>
<path class="t" d="M441 329.3H498"/>
<rect class="d" x="7" y="-6" width="41" height="12" rx="6" transform="translate(474 329.3) rotate(-46.4)" style="stroke-width:.7"/>
<rect class="d" x="7" y="-6" width="41" height="12" rx="6" transform="translate(474 329.3) rotate(-133.6)" style="stroke-width:.7"/>
<rect class="d" x="7" y="-6" width="41" height="12" rx="6" transform="translate(474 329.3) rotate(-226.4)" style="stroke-width:.7"/>
<rect class="d" x="7" y="-6" width="41" height="12" rx="6" transform="translate(474 329.3) rotate(-313.6)" style="stroke-width:.7"/>
<path class="l" d="M539 261.4H537.2V285Q537.2 291.1 543 291.1H571.8Q575.4 291.1 575.4 295V353Q575.4 356.3 572 356.3H543Q537.5 357 537.6 362Q538 367.5 544.4 368M544.4 382Q538.3 383 538.3 387V399.6H531.5Q527.5 394.5 525 388.6"/>
<path class="l" d="M532.3 339.6V389M571.6 296.5V309.6M571.6 338V350.6"/>
<path class="l" d="M532.3 370.3H544.4V380.2H532.3M538 370.3V380.2M544.4 368.5H548Q550.3 368.5 550.3 371V379.5Q550.3 382 548 382H544.4Z"/>
<path class="c" d="M520 375.2H554"/>
<rect class="l" x="529.2" y="391.5" width="2.3" height="5.2"/>
<path class="l" d="M540.1 248.6H550.6V261H540.1ZM534.8 256.2H540.1M534.8 259H540.1M534.8 256.2V259M550.6 256.2H555.8V259H550.6M539.2 261.4V267.7H551.6V261.4M540.3 273.5H550.5Q549.5 279.2 545.4 279.2Q541.3 279.2 540.3 273.5ZM540.3 267.7V273.5M550.5 267.7V273.5"/>
<path class="d" d="M541.4 268.6V300M549 268.6V300M553.4 268.6V290.5"/>
<path class="c" d="M545.2 245.7V301"/>
<path class="t" d="M536.8 301.0H542.8V307.2H536.8ZM536.8 301.0L542.8 307.2M536.8 307.2L542.8 301.0"/>
<path class="t" d="M547.5 301.0H553.5V307.2H547.5ZM547.5 301.0L553.5 307.2M547.5 307.2L553.5 301.0"/>
<path class="t" d="M536.8 340.4H542.8V346.6H536.8ZM536.8 340.4L542.8 346.6M536.8 346.6L542.8 340.4"/>
<path class="t" d="M547.5 340.4H553.5V346.6H547.5ZM547.5 340.4L553.5 346.6M547.5 346.6L553.5 340.4"/>
<path class="t" d="M542.8 307.2L544 304H546.3L547.5 307.2M542.8 340.4L544 343.6H546.3L547.5 340.4"/>
<rect class="l" x="555.9" y="296.8" width="13.4" height="12.8"/><circle class="l" cx="562.5" cy="303.2" r="3.8"/><path class="t" d="M557 303.2H568.5M562.5 297.3V309.1M558.3 296.8V309.6M566.9 296.8V309.6"/>
<rect class="l" x="555.9" y="337.8" width="13.4" height="12.8"/><circle class="l" cx="562.5" cy="344.2" r="3.8"/><path class="t" d="M557 344.2H568.5M562.5 338.3V350.1M558.3 337.8V350.6M566.9 337.8V350.6"/>
<path class="l" d="M553.4 307.2V339.6M555.9 309.6V337.8M569.3 309.6V337.8M571.2 309.6V337.8"/>
<circle class="m" cx="346.7" cy="412.3" r="9.2" style="stroke-width:1.3"/><polygon class="t" points="358.0,413.3 351.5,422.5 340.2,421.6 335.4,411.3 341.9,402.1 353.2,403.0"/><path class="t" d="M338.7 412.3H354.7M346.7 399.3V421.3"/>
<circle class="m" cx="395.2" cy="380.2" r="9.2" style="stroke-width:1.3"/><polygon class="t" points="406.5,381.2 400.0,390.4 388.7,389.5 383.9,379.2 390.4,370.0 401.7,370.9"/><path class="t" d="M387.2 380.2H403.2M395.2 367.2V389.2"/>
<path class="l" d="M352.6 396.9L383.8 377M359 413.6L394.7 392.1"/>
<path class="l" d="M347.2 398.7A13.6 13.6 0 1 1 342.0 425.1"/>
<path class="l" d="M402.0 368.4A13.6 13.6 0 1 0 393.3 393.7"/>
<path class="t" d="M402 366.5L403.5 369M407.5 378L409.5 381L407 383"/>
<path class="t" d="M395.2 355.6Q399.5 356.5 399 362Q398.5 365.5 394 366.8"/>
<path class="t" d="M263.7 124.5L315.5 312.6M287.5 124.5L333.8 281.2M310.4 124.7L343.7 275.3M333.0 124.8L342.3 203.0M358.7 124.3L387.0 206.0M382.6 124.2L412.3 201.7M406.0 124.3L432.0 199.0M428.3 124.7L440.6 187.8M450.1 124.9L451.2 204.5M472.6 124.9L469.5 181.5M495.1 124.8L485.6 186.5M521.4 124.9L523.7 191.0M544.1 124.9L540.4 205.3M566.6 124.8L552.3 212.5M590.8 124.8L569.7 296.3M264.1 477.9L295.8 391.4M288.5 478.3L348.5 350.5M311.3 477.9L351.0 364.0M335.2 478.0L366.0 398.0M357.5 477.6L382.0 372.0M380.0 477.4L394.5 338.0M402.9 477.3L406.6 340.0M425.2 477.3L412.0 340.0M448.4 477.4L433.1 329.1M471.1 477.4L458.0 390.0M495.0 477.4L481.6 380.0M519.0 477.5L492.3 344.4M542.0 477.6L501.8 325.3M564.5 478.1L531.0 397.7"/>
<ellipse class="w" cx="261.0" cy="114.8" rx="9.9" ry="9.9" style="stroke-width:0.8"/>
<text x="252.75" y="119.00" font-size="12.59" textLength="16.50" lengthAdjust="spacingAndGlyphs" >622</text>
<ellipse class="w" cx="284.6" cy="114.8" rx="9.9" ry="9.9" style="stroke-width:0.8"/>
<text x="276.35" y="119.00" font-size="12.59" textLength="16.50" lengthAdjust="spacingAndGlyphs" >636</text>
<ellipse class="w" cx="308.2" cy="114.8" rx="9.9" ry="9.9" style="stroke-width:0.8"/>
<text x="299.95" y="119.00" font-size="12.59" textLength="16.50" lengthAdjust="spacingAndGlyphs" >634</text>
<ellipse class="w" cx="331.8" cy="114.8" rx="9.9" ry="9.9" style="stroke-width:0.8"/>
<text x="323.55" y="119.00" font-size="12.59" textLength="16.50" lengthAdjust="spacingAndGlyphs" >651</text>
<ellipse class="w" cx="355.4" cy="114.8" rx="9.9" ry="9.9" style="stroke-width:0.8"/>
<text x="347.15" y="119.00" font-size="12.59" textLength="16.50" lengthAdjust="spacingAndGlyphs" >661</text>
<ellipse class="w" cx="379.0" cy="114.8" rx="9.9" ry="9.9" style="stroke-width:0.8"/>
<text x="370.75" y="119.00" font-size="12.59" textLength="16.50" lengthAdjust="spacingAndGlyphs" >669</text>
<ellipse class="w" cx="402.7" cy="114.8" rx="9.9" ry="9.9" style="stroke-width:0.8"/>
<text x="394.45" y="119.00" font-size="12.59" textLength="16.50" lengthAdjust="spacingAndGlyphs" >660</text>
<ellipse class="w" cx="426.4" cy="114.8" rx="9.9" ry="9.9" style="stroke-width:0.8"/>
<text x="418.15" y="119.00" font-size="12.59" textLength="16.50" lengthAdjust="spacingAndGlyphs" >663</text>
<ellipse class="w" cx="450.0" cy="114.8" rx="9.9" ry="9.9" style="stroke-width:0.8"/>
<text x="441.75" y="119.00" font-size="12.59" textLength="16.50" lengthAdjust="spacingAndGlyphs" >654</text>
<ellipse class="w" cx="473.2" cy="114.8" rx="9.9" ry="9.9" style="stroke-width:0.8"/>
<text x="464.95" y="119.00" font-size="12.59" textLength="16.50" lengthAdjust="spacingAndGlyphs" >658</text>
<ellipse class="w" cx="496.6" cy="114.8" rx="9.9" ry="9.9" style="stroke-width:0.8"/>
<text x="488.35" y="119.00" font-size="12.59" textLength="16.50" lengthAdjust="spacingAndGlyphs" >662</text>
<ellipse class="w" cx="521.0" cy="114.8" rx="9.9" ry="9.9" style="stroke-width:0.8"/>
<text x="512.75" y="119.00" font-size="12.59" textLength="16.50" lengthAdjust="spacingAndGlyphs" >664</text>
<ellipse class="w" cx="544.6" cy="114.8" rx="9.9" ry="9.9" style="stroke-width:0.8"/>
<text x="536.35" y="119.00" font-size="12.59" textLength="16.50" lengthAdjust="spacingAndGlyphs" >675</text>
<ellipse class="w" cx="568.2" cy="114.8" rx="9.9" ry="9.9" style="stroke-width:0.8"/>
<text x="559.95" y="119.00" font-size="12.59" textLength="16.50" lengthAdjust="spacingAndGlyphs" >653</text>
<ellipse class="w" cx="592.0" cy="114.8" rx="9.9" ry="9.9" style="stroke-width:0.8"/>
<text x="583.75" y="119.00" font-size="12.59" textLength="16.50" lengthAdjust="spacingAndGlyphs" >605</text>
<ellipse class="w" cx="260.6" cy="487.4" rx="9.9" ry="9.9" style="stroke-width:0.8"/>
<text x="252.35" y="491.60" font-size="12.59" textLength="16.50" lengthAdjust="spacingAndGlyphs" >650</text>
<ellipse class="w" cx="284.2" cy="487.4" rx="9.9" ry="9.9" style="stroke-width:0.8"/>
<text x="275.95" y="491.60" font-size="12.59" textLength="16.50" lengthAdjust="spacingAndGlyphs" >645</text>
<ellipse class="w" cx="308.0" cy="487.4" rx="9.9" ry="9.9" style="stroke-width:0.8"/>
<text x="299.75" y="491.60" font-size="12.59" textLength="16.50" lengthAdjust="spacingAndGlyphs" >646</text>
<ellipse class="w" cx="331.6" cy="487.4" rx="9.9" ry="9.9" style="stroke-width:0.8"/>
<text x="323.35" y="491.60" font-size="12.59" textLength="16.50" lengthAdjust="spacingAndGlyphs" >652</text>
<ellipse class="w" cx="355.2" cy="487.4" rx="9.9" ry="9.9" style="stroke-width:0.8"/>
<text x="346.95" y="491.60" font-size="12.59" textLength="16.50" lengthAdjust="spacingAndGlyphs" >647</text>
<ellipse class="w" cx="379.0" cy="487.4" rx="9.9" ry="9.9" style="stroke-width:0.8"/>
<text x="370.75" y="491.60" font-size="12.59" textLength="16.50" lengthAdjust="spacingAndGlyphs" >635</text>
<ellipse class="w" cx="402.6" cy="487.4" rx="9.9" ry="9.9" style="stroke-width:0.8"/>
<text x="394.35" y="491.60" font-size="12.59" textLength="16.50" lengthAdjust="spacingAndGlyphs" >685</text>
<ellipse class="w" cx="426.2" cy="487.4" rx="9.9" ry="9.9" style="stroke-width:0.8"/>
<text x="417.95" y="491.60" font-size="12.59" textLength="16.50" lengthAdjust="spacingAndGlyphs" >686</text>
<ellipse class="w" cx="449.4" cy="487.4" rx="9.9" ry="9.9" style="stroke-width:0.8"/>
<text x="441.15" y="491.60" font-size="12.59" textLength="16.50" lengthAdjust="spacingAndGlyphs" >620</text>
<ellipse class="w" cx="472.6" cy="487.4" rx="9.9" ry="9.9" style="stroke-width:0.8"/>
<text x="464.35" y="491.60" font-size="12.59" textLength="16.50" lengthAdjust="spacingAndGlyphs" >601</text>
<ellipse class="w" cx="496.4" cy="487.4" rx="9.9" ry="9.9" style="stroke-width:0.8"/>
<text x="488.15" y="491.60" font-size="12.59" textLength="16.50" lengthAdjust="spacingAndGlyphs" >607</text>
<ellipse class="w" cx="521.0" cy="487.4" rx="9.9" ry="9.9" style="stroke-width:0.8"/>
<text x="512.75" y="491.60" font-size="12.59" textLength="16.50" lengthAdjust="spacingAndGlyphs" >606</text>
<ellipse class="w" cx="544.6" cy="487.4" rx="9.9" ry="9.9" style="stroke-width:0.8"/>
<text x="536.35" y="491.60" font-size="12.59" textLength="16.50" lengthAdjust="spacingAndGlyphs" >621</text>
<ellipse class="w" cx="568.4" cy="487.4" rx="9.9" ry="9.9" style="stroke-width:0.8"/>
<text x="560.15" y="491.60" font-size="12.59" textLength="16.50" lengthAdjust="spacingAndGlyphs" >667</text>
<text x="348.50" y="567.90" font-size="11.53" textLength="58.85" lengthAdjust="spacingAndGlyphs" >CHECK&#160;VALVE</text>
<path class="t" d="M348.1 569.5H410.1L435.3 616"/>
<path d="M435.3 616.4L433 613.2L434.9 612.3Z" fill="#111"/>
<text x="301.80" y="596.90" font-size="11.53" textLength="58.30" lengthAdjust="spacingAndGlyphs" >VACUUM&#160;PUMP</text>
<path class="t" d="M301.5 599H362.4L423.3 637.2"/>
<text x="136.20" y="642.90" font-size="11.53" textLength="66.04" lengthAdjust="spacingAndGlyphs" >EXHAUST&#160;AIR&#160;&amp;</text>
<text x="136.20" y="657.80" font-size="11.53" textLength="73.92" lengthAdjust="spacingAndGlyphs" >OVER&#160;FLOW&#160;PIPE</text>
<path class="t" d="M136 661.5H230.5L284.6 700.6"/>
<path d="M284.8 700.8L281 699.6L282.3 697.6Z" fill="#111"/>
<text x="497.30" y="677.80" font-size="11.53" textLength="69.55" lengthAdjust="spacingAndGlyphs" >AUTO&#160;CYLINDER</text>
<path class="t" d="M567.5 681.3H491.6L450.5 696.2"/>
<path d="M450 696.4L453.2 694.2L453.9 696.1Z" fill="#111"/>
<text x="473.40" y="577.80" font-size="10.62" textLength="26.75" lengthAdjust="spacingAndGlyphs" >MOTOR</text>
<text x="473.60" y="810.70" font-size="10.77" textLength="24.20" lengthAdjust="spacingAndGlyphs" >PUMP</text>
<text x="401.30" y="806.00" font-size="10.62" textLength="20.00" lengthAdjust="spacingAndGlyphs" >SUC.</text>
<text x="547.40" y="804.90" font-size="10.62" textLength="18.00" lengthAdjust="spacingAndGlyphs" >DEL.</text>
<text x="300.10" y="699.20" font-size="9.71" textLength="33.60" lengthAdjust="spacingAndGlyphs" >CIRC.&#160;W.</text>
<text x="300.10" y="711.20" font-size="10.47" textLength="20.00" lengthAdjust="spacingAndGlyphs" >TANK</text>
<text x="81.00" y="814.40" font-size="10.02" textLength="78.54" lengthAdjust="spacingAndGlyphs" >*&#160;MARKS&#160;OF&#160;PIPING</text>
<path d="M79 822.4H143" stroke="#777" stroke-width="1" fill="none"/>
<path d="M79 834.5H143" stroke="#222" stroke-width="0.8" fill="none" stroke-dasharray="6.2 3"/>
<path d="M79 847.3H143" stroke="#222" stroke-width="0.8" fill="none" stroke-dasharray="24 2.5 3 2.5 3 2.5 3 2.5 40"/>
<text x="146.00" y="826.10" font-size="10.02" textLength="113.00" lengthAdjust="spacingAndGlyphs" >EXTRACT&#160;AIR&#160;PIPE&#160;BY&#160;MAKER</text>
<text x="146.00" y="838.10" font-size="10.02" textLength="140.43" lengthAdjust="spacingAndGlyphs" >CIRCULATING&#160;WATER&#160;PIPE&#160;BY&#160;MAKER</text>
<text x="146.00" y="850.90" font-size="10.02" textLength="121.50" lengthAdjust="spacingAndGlyphs" >AUTO&#160;CYLINDER&#160;PIPE&#160;BY&#160;MAKER</text>
<path class="l" d="M411.8 621.8H261.4V752.9H281.6A3.5 3.5 0 0 1 288.6 752.9H451.2V773"/>
<path class="t" d="M280.5 619.6H294.5M285.4 619.6L288.2 617.8H291.7M359.5 619.6H373.5M364.4 619.6L367.2 617.8H370.7M373.4 750.6H387.4M382.5 750.6L379.7 748.8H376.2"/>
<path class="t" d="M257.6 706V694.5L256.6 698.5"/>
<path class="l" d="M293.2 684.5H285.1V766.3M282.3 771.5L279.5 774.5M285.1 770.5V774.5M287.9 771.5L290.7 774.5M282.5 688.5H287.7M282.5 690.3H287.7"/>
<path class="t" d="M281.8 713V724Q281.8 725.5 280.3 724.5"/>
<path class="l" d="M298.3 676.3H339.5V724.3H298.3ZM312.3 676.3V671.2H325.8V676.3M314.8 671.2V669.8H323.3V671.2"/>
<path class="l" d="M293.2 681.4H298.3M293.2 687.8H298.3M293.2 681.4V687.8M339.5 681.4H344.6V687.8H339.5M339.5 714.2H344.6V721H339.5"/>
<path class="t" d="M346.5 681.6Q348 684.6 346.5 687.6M349.3 681.6Q347.8 684.6 349.3 687.6M346.5 714.6Q348 717.6 346.5 720.6M349.3 714.6Q347.8 717.6 349.3 720.6"/>
<path class="l" d="M344.6 683.9H367A3.1 3.1 0 0 1 373.2 683.9H436.6V663.9"/>
<path class="t" d="M390.0 681.8H405.0M399.8 681.8L396.8 680.0H393.0"/>
<path class="d" d="M423.3 641.5H370.1V717.6H344.6"/>
<path class="t" d="M377.0 639.4H390.0M381.6 639.4L384.1 637.6H387.4"/>
<path class="l" d="M425.8 616.2H443.5V626.7H425.8ZM423.8 614.3H425.8V628.6H423.8ZM443.5 614.3H445.5V628.6H443.5ZM419.6 619H423.8M419.6 624.8H423.8M419.6 619V624.8M445.5 619H448V624.8H445.5"/>
<path class="t" d="M412 618.8V625M414.3 618.8V625M410.5 621.9H419.6M448 621.9H452"/>
<path class="d" d="M427 621.9H442"/>
<ellipse class="l" cx="435.8" cy="628.6" rx="4.2" ry="3.9" style="fill:#fff"/>
<path class="l" d="M432 632V637.2M439.7 632V637.2"/>
<path class="l" d="M423.3 637.2H448.6V660.7H423.3ZM416.8 644.8H423.3M416.8 652.5H423.3M416.8 644.8V652.5M431.5 660.7V663.9H441V660.7M433 666.8H440.2M434.3 668.3H438.9"/>
<circle class="t" cx="427.3" cy="641.6" r="1.9"/><circle class="t" cx="432.4" cy="641.6" r="1.9"/><path class="t" d="M425.4 641.6H429.2M427.3 639.7V643.5"/><circle cx="432.4" cy="641.6" r="0.6" fill="#111"/>
<path class="l" d="M450 638.2H457.2V655.3H450ZM448.6 645H450M448.6 653H450M451.5 640.5L455.8 638.5M451.5 643L455.8 641"/>
<path class="c" d="M446 649.2H475"/>
<path class="l" d="M460.7 637.2V692H454V702.4H464.5V692.5M463.9 637.2V692M460.7 637.2Q462.3 635.6 463.9 637.2M457 696.7V702.4"/>
<path d="M466.4 638.2Q470.5 640 472.6 644V655Q471.5 658 466.4 659.1Z" fill="#555" stroke="#111" stroke-width="0.9"/>
<path class="t" d="M466 663.3H479L476 661.8M480 665.9H467L470 667.4"/>
<path class="l" d="M462.5 608.9V559.3Q462.5 553.6 468.2 553.6H506.8Q512.5 553.6 512.5 559.3V608.9M462.5 608.9H512.5M462.5 608.9L460 619M466.7 608.9V619M512.5 608.9L514.8 619M507.7 608.9V619"/>
<path class="m" d="M452.4 619H522.4V625.1H452.4Z"/>
<path class="l" d="M452.4 625.1V628.4H464.8V625.1M522.4 625.1V628.4H509.6V625.1M464.8 627.6H509.6"/>
<path class="c" d="M486.8 548V845"/>
<path class="l" d="M482 625.1V630.5H491.5V625.1M479.2 630.5H495V637.2H479.2ZM479.2 644.3V651.5H495V644.3M482 651.5V655.3H491.5V651.5M484.9 655.3V657.2H489.6V655.3"/>
<path d="M470.6 637.2H504.9Q503 643.8 495 644.3H479.2Q472 643.8 468.7 638.2Z" fill="#fff" stroke="#111" stroke-width="1.1"/>
<path class="t" d="M472 639.6H502.8"/>
<rect x="420" y="692" width="27.7" height="14.2" fill="#777" stroke="#111" stroke-width="1"/>
<path d="M422 694.2H445.5V697.7H422ZM422 700.4H445.5V704H422Z" fill="#fff" stroke="none"/>
<path class="t" d="M423 697.5L425 694.3L427 697.5L429 694.3L431 697.5L433 694.3L435 697.5L437 694.3L439 697.5L441 694.3L443 697.5M423 703.8L425 700.6L427 703.8L429 700.6L431 703.8L433 700.6L435 703.8L437 700.6L439 703.8L441 700.6L443 703.8"/>
<path class="l" d="M411.8 699H447.7M447.7 696.7H454M447.7 701.6H454"/>
<path class="t" d="M411 696.5L414 701.5M414 696.5L411 701.5M412.5 695.5V702.5"/>
<path class="l" d="M442.3 689.1V692M445.7 689.1V692M442.3 689.1H445.7M441 706.2V709.1H446.7V706.2M440.5 710.6H447.3M441.8 712.3H446"/>
<path class="l" d="M443.9 709.1V723H470"/>
<path class="c" style="stroke:#222;stroke-width:.8;stroke-dasharray:16 2 3 2" d="M470 723H536.7V773"/>
<path class="t" d="M470.6 720.8H484.6M479.7 720.8L476.9 719.0H473.4"/>
<path class="t" d="M539.5 760L539.5 748.5L538.3 752"/>
<path class="l" d="M457.6 748.9H516.8V753.2H457.6ZM460.9 753.2V783.2M467.2 753.2V783.2M506.2 753.2V783.2M513 753.2V783.2"/>
<path class="l" d="M468 783.2V775A19 19 0 0 1 506 775V783.2"/>
<path class="l" d="M473.6 766.7H499V770H473.6ZM481.2 770V778.2M492.7 770V778.2M474.9 778.2H498.5V782H474.9Z"/>
<path class="l" d="M448.2 783.2H516.3Q521.4 784.5 521.4 791V836Q521.4 842.5 516.8 843.8H457Q452 839.5 446 838Q438.5 836.5 438.5 832V795Q438.5 791.5 443 789Q446.5 786.5 448.2 783.2M457 785.3H516.3"/>
<path class="t" d="M452 792V836M453.4 792V836"/>
<path class="l" d="M434.2 783.8H438V844.3H434.2ZM458.3 843.8V846.8M516 843.8V846.8M454.5 846.8H519.4V851.9H454.5Z"/>
<path class="l" d="M521.4 798L535.9 790.9M521.4 829L535.9 836.2M535.9 783.2H541V844.3H535.9ZM534.2 783.2V787H540.2"/>
<path class="c" d="M400 814.3H570"/>
<path class="t" d="M406 811V817M406 811.6L424 814.3H406M550.8 811V817M550.8 811.6L567.4 814.3H550.8"/>
<ellipse class="t" cx="451.2" cy="775.1" rx="2.6" ry="1.2"/><ellipse class="t" cx="536.7" cy="775.6" rx="2.6" ry="1.2"/>
<path class="l" d="M451.2 776.3V783.5M448.8 779.5V783.5H454.6V779.5M536.7 776.8V783"/>
</svg>
</body></html>
